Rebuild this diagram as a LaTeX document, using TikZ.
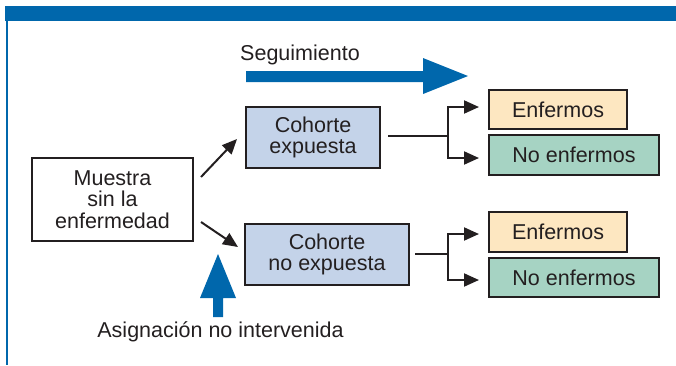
\documentclass[tikz,border=0pt]{standalone}
\usepackage{fontspec}
\setmainfont{Liberation Sans}
\usetikzlibrary{arrows.meta}
\definecolor{bandblue}{HTML}{0067AC}
\definecolor{cohortfill}{HTML}{C4D3E9}
\definecolor{sickfill}{HTML}{FDE7C1}
\definecolor{wellfill}{HTML}{A6D3C3}
\definecolor{ink}{HTML}{231F20}
\begin{document}
\begin{tikzpicture}[x=1pt,y=-1pt,
  box/.style={draw=ink,line width=2.2pt,align=center,inner sep=0pt,
    font=\fontsize{21.5}{21.5}\selectfont,text=ink},
  conn/.style={draw=ink,line width=2pt},
  tip/.style={-{Triangle[length=15pt,width=13pt]}},
  lbl/.style={font=\fontsize{21.5}{21.5}\selectfont,text=ink,inner sep=0pt}]
\useasboundingbox (0,0) rectangle (676,365);
% frame
\fill[bandblue] (5,6) rectangle (676,21);
\fill[bandblue] (5.5,21) rectangle (8,365);
% nodes
\node[box,fill=white,minimum width=161pt,minimum height=83pt] (m) at (112.5,199.5) {Muestra\\sin la\\enfermedad};
\node[box,fill=cohortfill,minimum width=134pt,minimum height=61pt] (cu) at (313,137.5) {Cohorte\\expuesta};
\node[box,fill=cohortfill,minimum width=164pt,minimum height=61pt] (cd) at (327,254.5) {Cohorte\\no expuesta};
\node[box,fill=sickfill,minimum width=138pt,minimum height=39pt] (eu) at (558,109.5) {Enfermos};
\node[box,fill=wellfill,minimum width=170pt,minimum height=40pt] (nu) at (574,155) {No enfermos};
\node[box,fill=sickfill,minimum width=138pt,minimum height=40pt] (ed) at (558,232) {Enfermos};
\node[box,fill=wellfill,minimum width=170pt,minimum height=39pt] (nd) at (574,277.5) {No enfermos};
% labels
\node[lbl] (seg) at (300,55) {Seguimiento};
\node[lbl] (asig) at (220.5,332) {Asignación no intervenida};
% blue arrows
\fill[bandblue] (246,71) -- (423,71) -- (423,58) -- (468,76) -- (423,94) -- (423,82) -- (246,82) -- cycle;
\fill[bandblue] (213,317) -- (213,298) -- (200,298) -- (218,254) -- (236,298) -- (223,298) -- (223,317) -- cycle;
% diagonal arrows
\coordinate (mu) at (201,177);
\coordinate (cuin) at (237,139);
\coordinate (md) at (201,222);
\coordinate (cdin) at (238,247);
\draw[conn,tip] (mu) -- (cuin);
\draw[conn,tip] (md) -- (cdin);
% upper branch
\coordinate (cuo) at (388,136);
\coordinate (ub) at (448,136);
\coordinate (ueu) at (479,107);
\coordinate (unu) at (479,158);
\draw[conn] (cuo) -- (ub);
\draw[conn,tip] (ub) |- (ueu);
\draw[conn,tip] (ub) |- (unu);
% lower branch
\coordinate (cdo) at (415,254);
\coordinate (db) at (448,254);
\coordinate (ded) at (479,234);
\coordinate (dnd) at (479,280);
\draw[conn] (cdo) -- (db);
\draw[conn,tip] (db) |- (ded);
\draw[conn,tip] (db) |- (dnd);
\end{tikzpicture}
\end{document}
